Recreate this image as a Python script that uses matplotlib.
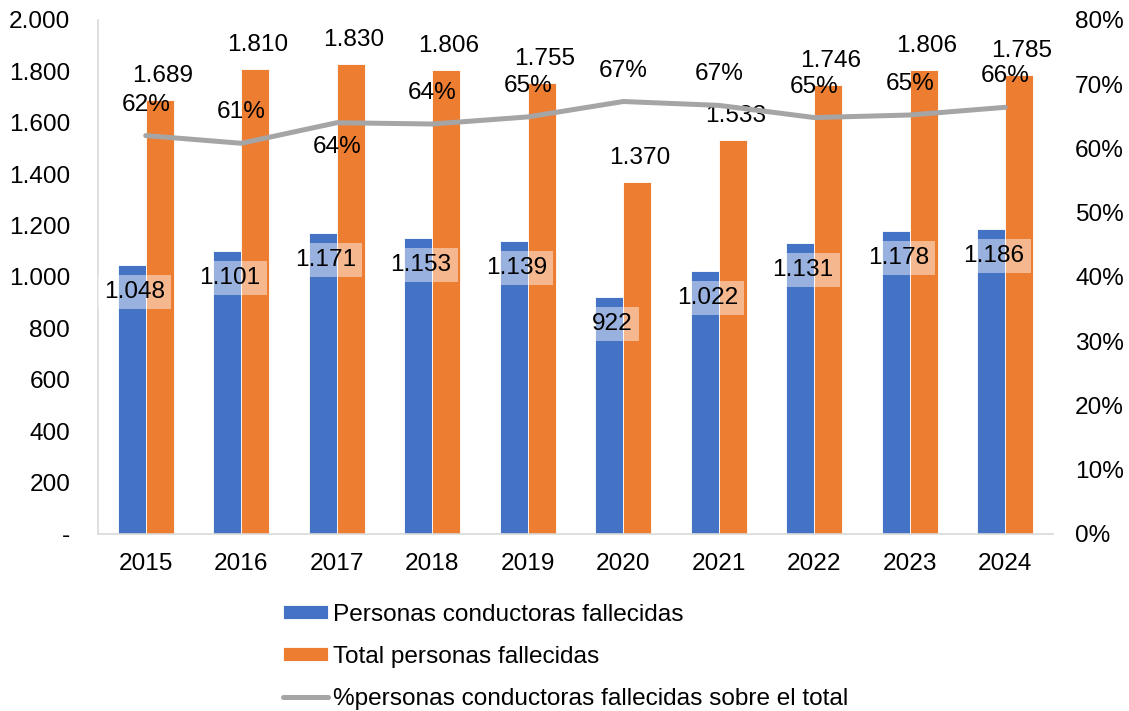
import numpy as np
import matplotlib.pyplot as plt
from matplotlib.ticker import FuncFormatter

plt.rcParams['font.family'] = ['Liberation Sans', 'DejaVu Sans']

# ----------------------------------------
# datos
# ----------------------------------------
years = ['2015', '2016', '2017', '2018', '2019', '2020', '2021', '2022', '2023', '2024']
conductores = [1048, 1101, 1171, 1153, 1139, 922, 1022, 1131, 1178, 1186]
total = [1689, 1810, 1830, 1806, 1755, 1370, 1533, 1746, 1806, 1785]
pct_conductores = [0.620, 0.608, 0.640, 0.638, 0.649, 0.673, 0.667, 0.648, 0.652, 0.664]
pct_pos = ['above', 'above', 'below', 'above', 'above', 'above', 'above', 'above', 'above', 'above']

c_blue = '#4472C4'
c_orange = '#ED7D31'
c_grey = '#A5A5A5'
fs = 17.6


def miles(v, pos=None):
    if v == 0:
        return '-'
    return f'{v:,.0f}'.replace(',', '.')


fig = plt.figure(figsize=(11.29, 7.11), dpi=100)
ax = fig.add_axes([0.0868, 0.249, 0.8459, 0.723])
ax2 = ax.twinx()

x = np.arange(len(years))
w = 0.293

b1 = ax.bar(x - w / 2, conductores, w, color=c_blue, edgecolor='white', linewidth=0.6,
            label='Personas conductoras fallecidas')
b2 = ax.bar(x + w / 2, total, w, color=c_orange, edgecolor='white', linewidth=0.6,
            label='Total personas fallecidas')

ax.set_xlim(-0.5, len(years) - 0.5)
ax.set_ylim(0, 2000)
ax.set_yticks(np.arange(0, 2001, 200))
ax.yaxis.set_major_formatter(FuncFormatter(miles))
ax.set_xticks(x)
ax.set_xticklabels(years)
ax.tick_params(axis='y', length=0, pad=20, labelsize=fs)
ax.tick_params(axis='x', length=0, pad=13.5, labelsize=fs)
for s in ['top', 'right']:
    ax.spines[s].set_visible(False)
for s in ['left', 'bottom']:
    ax.spines[s].set_color('#D9D9D9')
    ax.spines[s].set_linewidth(1.2)

# etiquetas de barras
for xi, v in zip(x, conductores):
    ax.annotate(miles(v), (xi - w / 2, v), xytext=(2, -19.5), textcoords='offset points',
                ha='center', va='center', fontsize=fs, zorder=5,
                bbox=dict(boxstyle='square,pad=0.25', fc='white', ec='none', alpha=0.45))
for xi, v in zip(x, total):
    ax.annotate(miles(v), (xi + w / 2, v), xytext=(2, 17.3), textcoords='offset points',
                ha='center', va='center', fontsize=fs)

# linea de porcentaje
l1, = ax2.plot(x, pct_conductores, color=c_grey, linewidth=3.6, solid_capstyle='round',
               label='%personas conductoras fallecidas sobre el total')
ax2.set_ylim(0, 0.8)
ax2.set_yticks(np.arange(0, 0.81, 0.1))
ax2.yaxis.set_major_formatter(FuncFormatter(lambda v, p: f'{v:.0%}'))
ax2.tick_params(axis='y', length=0, pad=16, labelsize=fs)
for s in ax2.spines.values():
    s.set_visible(False)

for xi, v, pos in zip(x, pct_conductores, pct_pos):
    dy = 22.3 if pos == 'above' else -17.3
    ax2.annotate(f'{v:.0%}', (xi, v), xytext=(0, dy), textcoords='offset points',
                 ha='center', va='center', fontsize=fs)

fig.legend(handles=[b1, b2, l1], loc='upper left', bbox_to_anchor=(0.2507, 0.151),
           frameon=False, fontsize=fs, handlelength=1.85, handleheight=0.5,
           handletextpad=0.2, labelspacing=0.82, borderpad=0, borderaxespad=0)

fig.savefig('out.png', dpi=100)
